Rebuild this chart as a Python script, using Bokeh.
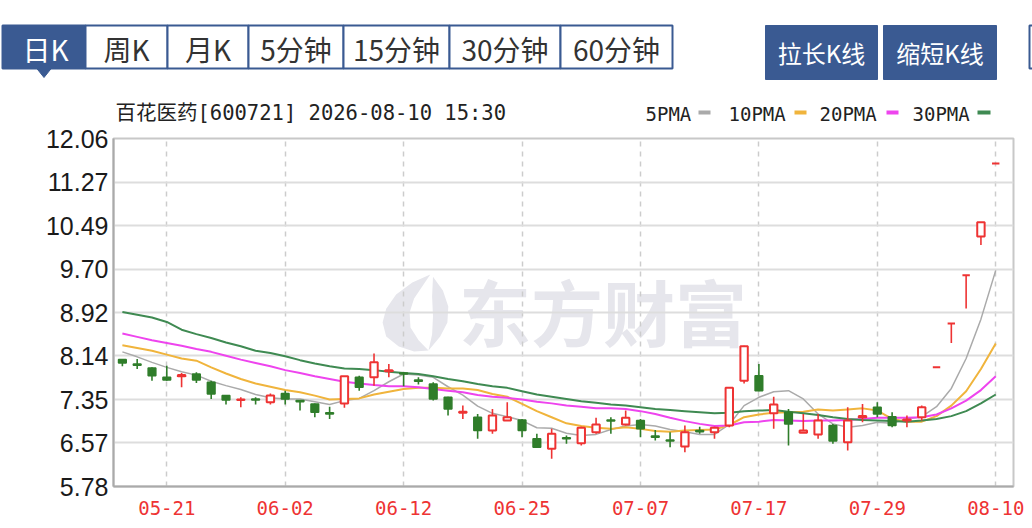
from bokeh.plotting import figure
from bokeh.models import Range1d, FixedTicker, NumeralTickFormatter, ColumnDataSource
from bokeh.layouts import column
from bokeh.embed import file_html
from bokeh.resources import INLINE
from bokeh.core.properties import value

# ---------------- data ----------------
stock_title = "百花医药[600721] 2026-08-10 15:30"
watermark = "东方财富"

dates = ["05-18", "05-19", "05-20", "05-21", "05-22", "05-25", "05-26", "05-27", "05-28", "05-29",
         "06-01", "06-02", "06-03", "06-04", "06-05", "06-08", "06-09", "06-10", "06-11", "06-12",
         "06-15", "06-16", "06-17", "06-18", "06-22", "06-23", "06-24", "06-25", "06-26", "06-29",
         "06-30", "07-01", "07-02", "07-03", "07-06", "07-07", "07-08", "07-09", "07-10", "07-13",
         "07-14", "07-15", "07-16", "07-17", "07-20", "07-21", "07-22", "07-23", "07-24", "07-27",
         "07-28", "07-29", "07-30", "07-31", "08-03", "08-04", "08-05", "08-06", "08-07", "08-10"]

open_ = [8.07, 7.99, 7.92, 7.75, 7.77, 7.81, 7.66, 7.42, 7.34, 7.36,
         7.30, 7.46, 7.33, 7.27, 7.11, 7.28, 7.75, 7.75, 7.86, 7.83,
         7.70, 7.63, 7.39, 7.11, 7.03, 6.79, 6.97, 6.98, 6.64, 6.46,
         6.66, 6.56, 6.76, 6.98, 6.90, 6.97, 6.69, 6.62, 6.50, 6.79,
         6.76, 6.88, 7.69, 7.78, 7.10, 7.12, 6.75, 6.72, 6.88, 6.58,
         7.03, 7.21, 7.04, 6.97, 7.03, 7.93, 8.72, 9.59, 10.29, 11.61]
high = [8.07, 8.08, 7.93, 7.96, 7.83, 7.84, 7.69, 7.42, 7.39, 7.39,
        7.46, 7.51, 7.33, 7.28, 7.22, 7.77, 7.78, 8.18, 7.99, 7.84,
        7.75, 7.66, 7.40, 7.24, 7.09, 7.18, 7.30, 7.00, 6.73, 6.82,
        6.70, 6.86, 7.02, 7.03, 7.15, 7.00, 6.80, 6.76, 6.88, 6.86,
        6.86, 7.57, 8.32, 7.99, 7.40, 7.18, 7.09, 7.09, 6.91, 7.21,
        7.27, 7.30, 7.12, 7.06, 7.24, 7.93, 8.72, 9.59, 10.55, 11.61]
low = [7.95, 7.90, 7.69, 7.69, 7.57, 7.65, 7.36, 7.26, 7.21, 7.26,
       7.26, 7.26, 7.15, 7.03, 7.00, 7.20, 7.51, 7.60, 7.75, 7.59,
       7.62, 7.33, 7.06, 7.00, 6.64, 6.73, 6.96, 6.67, 6.49, 6.28,
       6.55, 6.52, 6.73, 6.73, 6.88, 6.67, 6.61, 6.49, 6.40, 6.73,
       6.64, 6.85, 7.64, 7.50, 6.82, 6.52, 6.75, 6.64, 6.55, 6.43,
       6.94, 7.03, 6.85, 6.85, 6.97, 7.93, 8.37, 8.99, 10.14, 11.61]
close = [8.01, 7.97, 7.78, 7.70, 7.79, 7.70, 7.45, 7.34, 7.35, 7.34,
         7.42, 7.36, 7.31, 7.12, 7.09, 7.77, 7.57, 8.02, 7.88, 7.81,
         7.68, 7.36, 7.18, 7.13, 6.79, 7.06, 7.03, 6.79, 6.49, 6.73,
         6.64, 6.84, 6.90, 6.96, 7.02, 6.82, 6.67, 6.60, 6.76, 6.77,
         6.84, 7.56, 8.31, 7.51, 7.26, 6.91, 6.79, 6.97, 6.60, 6.97,
         7.05, 7.09, 6.88, 6.99, 7.21, 7.93, 8.72, 9.59, 10.55, 11.61]

ma5 = [8.21, 8.12, 8.02, 7.93, 7.85, 7.79, 7.68, 7.60, 7.53, 7.44,
       7.38, 7.36, 7.36, 7.31, 7.26, 7.33, 7.37, 7.51, 7.67, 7.81,
       7.79, 7.75, 7.58, 7.43, 7.23, 7.10, 7.04, 6.97, 6.84, 6.83,
       6.74, 6.70, 6.72, 6.81, 6.87, 6.90, 6.87, 6.81, 6.77, 6.72,
       6.72, 6.90, 7.24, 7.39, 7.49, 7.51, 7.36, 7.09, 6.91, 6.85,
       6.88, 6.94, 6.92, 7.00, 7.04, 7.22, 7.55, 8.09, 8.80, 9.68]
ma10 = [8.33, 8.28, 8.23, 8.16, 8.09, 8.05, 7.93, 7.82, 7.72, 7.64,
        7.58, 7.52, 7.48, 7.42, 7.35, 7.36, 7.37, 7.44, 7.49, 7.54,
        7.56, 7.56, 7.55, 7.55, 7.52, 7.45, 7.40, 7.27, 7.14, 7.03,
        6.92, 6.87, 6.84, 6.82, 6.85, 6.82, 6.78, 6.77, 6.79, 6.80,
        6.81, 6.89, 7.03, 7.08, 7.11, 7.12, 7.13, 7.17, 7.15, 7.17,
        7.19, 7.15, 7.00, 6.95, 6.95, 7.05, 7.24, 7.50, 7.90, 8.36]
ma20 = [8.54, 8.48, 8.42, 8.37, 8.32, 8.26, 8.21, 8.14, 8.07, 8.01,
        7.95, 7.88, 7.83, 7.77, 7.72, 7.67, 7.64, 7.61, 7.59, 7.59,
        7.57, 7.54, 7.51, 7.48, 7.43, 7.40, 7.38, 7.35, 7.31, 7.28,
        7.24, 7.22, 7.19, 7.19, 7.18, 7.14, 7.09, 7.02, 6.96, 6.91,
        6.87, 6.88, 6.94, 6.95, 6.98, 6.97, 6.96, 6.97, 6.97, 6.98,
        7.00, 7.02, 7.02, 7.02, 7.03, 7.08, 7.19, 7.33, 7.52, 7.77]
ma30 = [8.93, 8.88, 8.83, 8.75, 8.61, 8.53, 8.46, 8.38, 8.31, 8.23,
        8.19, 8.13, 8.06, 8.00, 7.95, 7.91, 7.90, 7.88, 7.85, 7.83,
        7.81, 7.77, 7.72, 7.68, 7.63, 7.59, 7.56, 7.50, 7.44, 7.40,
        7.36, 7.32, 7.29, 7.26, 7.24, 7.21, 7.18, 7.16, 7.14, 7.12,
        7.10, 7.11, 7.14, 7.15, 7.16, 7.13, 7.10, 7.07, 7.03, 7.00,
        6.98, 6.97, 6.96, 6.95, 6.97, 7.00, 7.05, 7.14, 7.28, 7.44]

x_tick_idx = [3, 11, 19, 27, 35, 43, 51, 59]
y_ticks = [5.78, 6.57, 7.35, 8.14, 8.92, 9.70, 10.49, 11.27, 12.06]

tab_labels = ["日K", "周K", "月K", "5分钟", "15分钟", "30分钟", "60分钟"]
button_labels = ["拉长K线", "缩短K线"]
legend_labels = ["5PMA", "10PMA", "20PMA", "30PMA"]

# ---------------- styles / layout ----------------
BLUE = "#3a5a92"
UP = "#ee3333"
DOWN = "#2f7d2a"
WM = "#e6e6ec"
ma_colors = ["#aaaaaa", "#f0b43c", "#ee44ee", "#3f8a52"]
CJK = value("Noto Sans CJK SC")
MONO_CJK = value("'DejaVu Sans Mono', 'Noto Sans CJK SC'")

tab_edges = [2, 85, 167, 248, 343, 449, 560, 672]
button_edges = [(765, 877), (883, 996)]
legend_text_x = [645, 728, 819, 912]
legend_bar_x = [(698, 710), (794, 806), (886, 898), (977, 990)]

# ---------------- header ----------------
h = figure(width=1032, height=124, x_range=Range1d(0, 1032), y_range=Range1d(124, 0),
           toolbar_location=None, output_backend="svg", x_axis_location=None,
           y_axis_location=None, min_border=0)
h.grid.visible = False
h.outline_line_color = None

n_tabs = len(tab_labels)
h.quad(left=tab_edges[:-1], right=tab_edges[1:], top=[25] * n_tabs, bottom=[68] * n_tabs,
       fill_color=[BLUE] + ["white"] * (n_tabs - 1), line_color=BLUE, line_width=2)
tab_cx = [(tab_edges[i] + tab_edges[i + 1]) / 2 for i in range(n_tabs)]
tab_cx[0] = 45
h.text(x=tab_cx, y=[48] * n_tabs, text=tab_labels, text_font=CJK, text_font_size="28px",
       text_align="center", text_baseline="middle",
       text_color=["white"] + ["#333333"] * (n_tabs - 1))
h.patch(x=[35.5, 51.5, 43.5], y=[67, 67, 77], fill_color=BLUE, line_color=BLUE)

h.quad(left=[b[0] for b in button_edges], right=[b[1] for b in button_edges],
       top=[25, 25], bottom=[79, 79], fill_color=BLUE, line_color=BLUE)
h.text(x=[(b[0] + b[1]) / 2 for b in button_edges], y=[52, 52], text=button_labels,
       text_font=CJK, text_font_size="24px", text_align="center", text_baseline="middle",
       text_color="white")
h.quad(left=[1029], right=[1045], top=[25], bottom=[68], fill_color="white",
       line_color=BLUE, line_width=2)

h.text(x=[115], y=[112.5], text=[stock_title], text_font=MONO_CJK, text_font_size="20.5px",
       text_baseline="middle", text_color="#222222")
h.text(x=legend_text_x, y=[113] * 4, text=legend_labels, text_font=value("DejaVu Sans Mono"),
       text_font_size="19px", text_baseline="middle", text_color="#222222")
h.quad(left=[b[0] for b in legend_bar_x], right=[b[1] for b in legend_bar_x],
       top=[110] * 4, bottom=[114] * 4, fill_color=ma_colors, line_color=None)

# ---------------- main chart ----------------
n = len(close)
xs = list(range(n))
XR = (-0.6, 60.2)
YR = (5.78, 12.06)
p = figure(width=1032, height=404, x_range=Range1d(*XR), y_range=Range1d(*YR),
           toolbar_location=None, output_backend="svg",
           min_border_left=113, min_border_right=19, min_border_top=14, min_border_bottom=42)
p.background_fill_color = "white"
p.outline_line_color = "#c8c8c8"
p.outline_line_width = 2

for fig in (h, p):
    if "frame_align" in fig.properties():
        fig.frame_align = False

# watermark (decoration, placed by frame fraction)
def fx(f):
    return XR[0] + f * (XR[1] - XR[0])

def fy(f):
    return YR[0] + f * (YR[1] - YR[0])

p.text(x=[fx(0.544)], y=[fy(0.508)], text=[watermark], text_font=CJK, text_font_style="bold",
       text_font_size="72px", text_color=WM, text_align="center",
       text_baseline="middle", level="image")
# logo: two petals, given as frame fractions
petal_a = [(0.352, 0.609), (0.332, 0.586), (0.314, 0.552), (0.303, 0.511), (0.299, 0.471),
           (0.303, 0.431), (0.317, 0.402), (0.334, 0.388), (0.350, 0.391), (0.339, 0.420),
           (0.330, 0.457), (0.329, 0.500), (0.334, 0.540), (0.352, 0.609)]
petal_b = [(0.355, 0.603), (0.366, 0.563), (0.372, 0.517), (0.371, 0.471), (0.363, 0.431),
           (0.350, 0.391), (0.354, 0.437), (0.355, 0.489), (0.354, 0.546), (0.355, 0.603)]
for pet in (petal_a, petal_b):
    p.patch(x=[fx(a) for a, b in pet], y=[fy(b) for a, b in pet], fill_color=WM,
            line_color=None, level="image")

# axes
p.yaxis.ticker = FixedTicker(ticks=y_ticks)
p.yaxis.formatter = NumeralTickFormatter(format="0.00")
p.xaxis.ticker = FixedTicker(ticks=x_tick_idx)
p.xaxis.major_label_overrides = {i: dates[i] for i in x_tick_idx}
for ax in (p.xaxis, p.yaxis):
    ax.major_tick_line_color = None
    ax.minor_tick_line_color = None
    ax.major_tick_out = 0
    ax.major_tick_in = 0
    ax.minor_tick_out = 0
    ax.axis_line_color = "#aaaaaa"
    ax.axis_line_width = 2
p.yaxis.major_label_text_font = "Liberation Sans"
p.yaxis.major_label_text_font_size = "25px"
p.yaxis.major_label_text_color = "#1a1a1a"
p.yaxis.major_label_standoff = 5
p.xaxis.major_label_text_font = "DejaVu Sans Mono"
p.xaxis.major_label_text_font_size = "19px"
p.xaxis.major_label_text_color = UP
p.xaxis.major_label_standoff = 14

p.ygrid.grid_line_color = "#dddddd"
p.ygrid.grid_line_width = 2
p.xgrid.grid_line_color = "#cccccc"
p.xgrid.grid_line_width = 1.5
p.xgrid.grid_line_dash = "5 5"

# moving averages
for ma, col, w in zip([ma5, ma10, ma20, ma30], ma_colors, [1.5, 2, 2, 2]):
    p.line(xs, ma, line_color=col, line_width=w)

# candles
up_idx = [i for i in range(n) if close[i] >= open_[i]]
dn_idx = [i for i in range(n) if close[i] < open_[i]]

def src(idx):
    return ColumnDataSource(dict(
        x=[xs[i] for i in idx],
        hi=[high[i] for i in idx],
        lo=[low[i] for i in idx],
        top=[max(open_[i], close[i]) for i in idx],
        bot=[min(open_[i], close[i]) for i in idx],
    ))

up_src = src(up_idx)
dn_src = src(dn_idx)
p.segment(x0="x", y0="lo", x1="x", y1="hi", source=up_src, line_color=UP, line_width=1.6)
p.segment(x0="x", y0="lo", x1="x", y1="hi", source=dn_src, line_color=DOWN, line_width=1.6)
p.vbar(x="x", top="top", bottom="bot", width=0.5, source=up_src,
       fill_color="white", line_color=UP, line_width=2)
p.vbar(x="x", top="top", bottom="bot", width=0.52, source=dn_src,
       fill_color=DOWN, line_color=DOWN, line_width=1.5)

layout = column(h, p)
open("out.html", "w").write(file_html(layout, INLINE))
